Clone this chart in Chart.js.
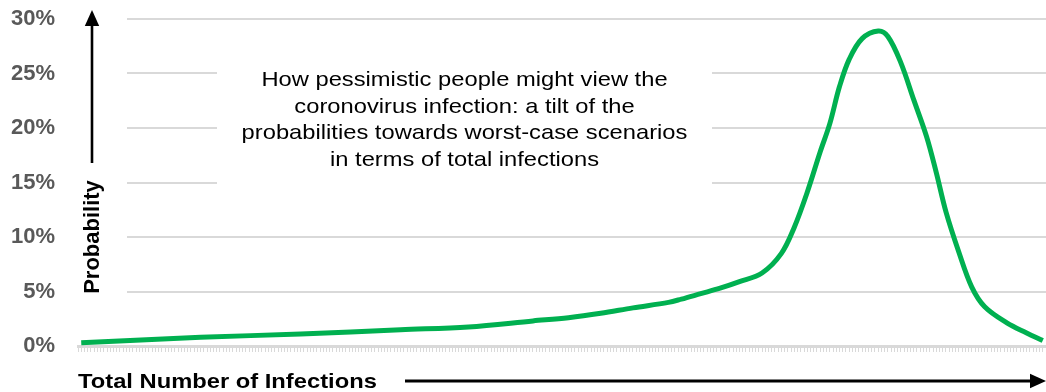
<!DOCTYPE html>
<html>
<head>
<meta charset="utf-8">
<script src="https://cdn.jsdelivr.net/npm/chart.js@4"></script>
<style>
  html, body { margin: 0; padding: 0; background: #fff; }
  #wrap { width: 1046px; height: 392px; position: relative; }
</style>
</head>
<body>
<div id="wrap"><canvas id="chart" width="1046" height="392"></canvas></div>
<script>
// Position along the x axis (0..300 scale units) and probability in %
var xPos = [1, 38, 69, 100, 121, 141, 152, 162, 172, 183, 187, 193, 199, 205, 212, 218, 222, 226, 230, 233, 236, 239, 243, 248, 251, 255, 259, 263, 266, 269, 273, 277, 281, 288, 294, 299];
var probPct = [0.3, 0.8, 1.1, 1.5, 1.75, 2.3, 2.6, 3.0, 3.5, 4.0, 4.3, 4.8, 5.3, 5.9, 6.7, 8.5, 10.9, 14.1, 17.8, 20.4, 23.8, 26.3, 28.2, 28.9, 28.4, 26.0, 22.6, 19.2, 15.9, 12.3, 8.6, 5.4, 3.6, 2.1, 1.2, 0.5];
var yTicks = [0, 5, 10, 15, 20, 25, 30];

var noteLines = [
  "How pessimistic people might view the",
  "coronovirus infection: a tilt of the",
  "probabilities towards worst-case scenarios",
  "in terms of total infections"
];
var xTitle = "Total Number of Infections";
var yTitle = "Probability";

var points = xPos.map(function(x, i) { return { x: x, y: probPct[i] }; });

function arrow(ctx, x1, y1, x2, y2, head, w) {
  var a = Math.atan2(y2 - y1, x2 - x1);
  ctx.save();
  ctx.strokeStyle = "#000";
  ctx.fillStyle = "#000";
  ctx.lineWidth = w;
  ctx.beginPath();
  ctx.moveTo(x1, y1);
  ctx.lineTo(x2 - Math.cos(a) * head * 0.8, y2 - Math.sin(a) * head * 0.8);
  ctx.stroke();
  ctx.beginPath();
  ctx.moveTo(x2, y2);
  ctx.lineTo(x2 - head * Math.cos(a) + head * 0.45 * Math.sin(a), y2 - head * Math.sin(a) - head * 0.45 * Math.cos(a));
  ctx.lineTo(x2 - head * Math.cos(a) - head * 0.45 * Math.sin(a), y2 - head * Math.sin(a) + head * 0.45 * Math.cos(a));
  ctx.closePath();
  ctx.fill();
  ctx.restore();
}

var decorPlugin = {
  id: "decor",
  beforeDatasetsDraw: function(chart) {
    var ctx = chart.ctx;
    var area = chart.chartArea;
    ctx.save();
    // white text boxes over the gridlines
    ctx.fillStyle = "#fff";
    ctx.fillRect(area.left, 4, 49, 300);
    ctx.fillRect(217, 58, 495, 132);

    // note text, slightly stretched like the original
    ctx.fillStyle = "#000";
    ctx.font = "21px 'Liberation Sans', Arial, sans-serif";
    ctx.textAlign = "center";
    ctx.textBaseline = "alphabetic";
    noteLines.forEach(function(line, i) {
      ctx.save();
      ctx.translate(464.5, 0);
      ctx.scale(1.13, 1);
      ctx.fillText(line, 0, 86 + i * 26.6);
      ctx.restore();
    });

    // y title + arrow
    ctx.save();
    ctx.translate(99, 237);
    ctx.rotate(-Math.PI / 2);
    ctx.font = "bold 22px 'Liberation Sans', Arial, sans-serif";
    ctx.textAlign = "center";
    ctx.fillText(yTitle, 0, 0);
    ctx.restore();
    arrow(ctx, 92, 163, 92, 10, 16, 2.6);

    // x title + arrow
    ctx.save();
    ctx.translate(78, 388);
    ctx.scale(1.13, 1);
    ctx.font = "bold 21px 'Liberation Sans', Arial, sans-serif";
    ctx.textAlign = "left";
    ctx.fillText(xTitle, 0, 0);
    ctx.restore();
    arrow(ctx, 405, 381, 1046, 381, 16, 3);
    ctx.restore();
  }
};

new Chart(document.getElementById("chart").getContext("2d"), {
  type: "line",
  data: {
    datasets: [{
      data: points,
      borderColor: "#00B050",
      borderWidth: 5,
      pointRadius: 0,
      fill: false,
      tension: 0.35
    }]
  },
  options: {
    responsive: false,
    animation: false,
    layout: { padding: 0 },
    plugins: { legend: { display: false }, tooltip: { enabled: false } },
    scales: {
      x: {
        type: "linear",
        min: 0,
        max: 300,
        afterFit: function(s) { s.height = 46; },
        ticks: { display: false, stepSize: 1, maxTicksLimit: 1000 },
        grid: { display: true, drawOnChartArea: false, drawTicks: true, tickLength: 6, color: "#d9d9d9", lineWidth: 1 },
        border: { display: true, color: "#d9d9d9", width: 3 }
      },
      y: {
        min: 0,
        max: 30,
        afterFit: function(s) { s.width = 78; s.paddingTop = 19; s.paddingBottom = 13; },
        afterBuildTicks: function(s) { s.ticks = yTicks.map(function(v) { return { value: v }; }); },
        ticks: {
          padding: 23,
          color: "#595959",
          font: { family: "'Liberation Sans', Arial, sans-serif", size: 22, weight: "bold" },
          callback: function(v) { return v + "%"; }
        },
        grid: { color: "#d9d9d9", lineWidth: 2, drawTicks: false, tickLength: 0 },
        border: { display: false }
      }
    }
  },
  plugins: [decorPlugin]
});
</script>
</body>
</html>
